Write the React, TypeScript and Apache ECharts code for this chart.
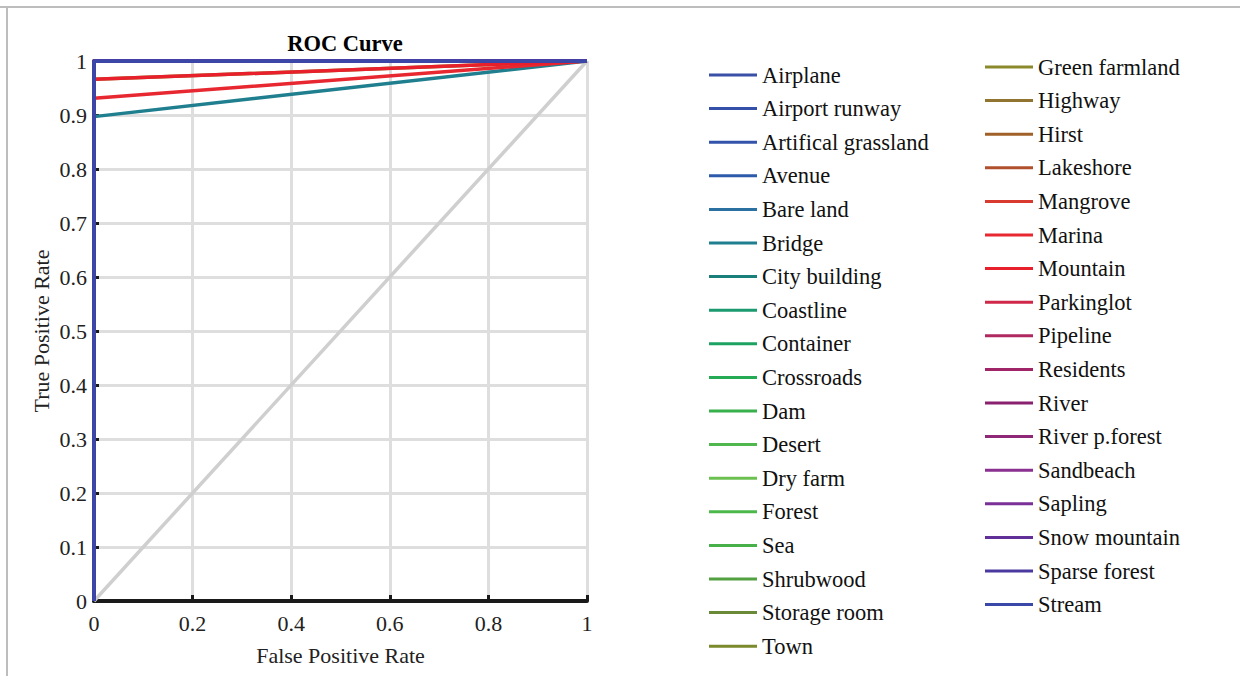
import React, { useEffect, useRef } from "react";
import * as echarts from "echarts";

const colOneNames = [
  "Airplane", "Airport runway", "Artifical grassland", "Avenue", "Bare land", "Bridge",
  "City building", "Coastline", "Container", "Crossroads", "Dam", "Desert",
  "Dry farm", "Forest", "Sea", "Shrubwood", "Storage room", "Town",
];
const colTwoNames = [
  "Green farmland", "Highway", "Hirst", "Lakeshore", "Mangrove", "Marina",
  "Mountain", "Parkinglot", "Pipeline", "Residents", "River", "River p.forest",
  "Sandbeach", "Sapling", "Snow mountain", "Sparse forest", "Stream",
];
const classNames = [...colOneNames, ...colTwoNames];

// TPR reached at FPR = 0 for each class (curve then goes straight to (1,1))
const tprAtZero = [
  1, 1, 1, 1, 1, 0.897,
  1, 1, 1, 1, 1, 1,
  1, 1, 1, 1, 1, 1,
  0.966, 1, 1, 1, 1, 0.931,
  0.966, 1, 1, 1, 1, 1,
  1, 1, 1, 1, 1,
];

const classColors = [
  "#3a4fa6", "#3550a8", "#3353aa", "#2d5aab", "#2a70a0", "#1f7f8f",
  "#1a7f7a", "#1a9a6e", "#1ea262", "#25aa55", "#38b04c", "#50b64e",
  "#6cc050", "#4cb84c", "#48b048", "#52a040", "#6a8a38", "#7a8a2c",
  "#8a8a2c", "#907430", "#a06028", "#b0502c", "#d83a30", "#e82830",
  "#e8202c", "#d02848", "#b02860", "#a02468", "#8a2070", "#902878",
  "#8a3090", "#7a3098", "#603098", "#4a3aa0", "#3a48a8",
];

const xTicks = [0, 0.2, 0.4, 0.6, 0.8, 1];
const diagonal = [[0, 0], [1, 1]];

export default function App() {
  const ref = useRef<HTMLDivElement>(null);
  useEffect(() => {
    if (!ref.current) return;
    const chart = echarts.init(ref.current, null, { renderer: "svg" });
    const font = "'Liberation Serif', 'Times New Roman', serif";
    const series: any[] = [
      {
        name: "chance",
        type: "line",
        data: diagonal,
        symbol: "none",
        lineStyle: { color: "#cfcfcf", width: 3.5 },
        silent: true,
      },
      ...classNames.map((n, i) => ({
        name: n,
        type: "line",
        data: [[0, 0], [0, tprAtZero[i]], [1, 1]],
        symbol: "none",
        color: classColors[i],
        lineStyle: { color: classColors[i], width: 3.5 },
      })),
    ];
    const legendCommon = {
      orient: "vertical",
      icon: "rect",
      itemWidth: 48,
      itemHeight: 3,
      itemGap: 9.6,
      padding: 0,
      textStyle: { fontFamily: font, fontSize: 22.5, color: "#111", lineHeight: 24 },
      selectedMode: false,
    };
    chart.setOption({
      animation: false,
      backgroundColor: "#fff",
      title: {
        text: "ROC Curve",
        left: 340,
        textAlign: "center",
        top: 27,
        textStyle: { fontFamily: font, fontSize: 22.5, fontWeight: "bold", color: "#000" },
      },
      legend: [
        { ...legendCommon, data: colOneNames, left: 709, top: 63 },
        { ...legendCommon, data: colTwoNames, left: 985, top: 55 },
      ],
      grid: { left: 94, top: 61, width: 493, height: 540, containLabel: false },
      xAxis: {
        type: "value",
        min: 0,
        max: 1,
        interval: 0.2,
        name: "False Positive Rate",
        nameLocation: "middle",
        nameGap: 43,
        nameTextStyle: { fontFamily: font, fontSize: 22, color: "#222" },
        axisLine: { show: true, lineStyle: { color: "#1a1a1a", width: 4 } },
        axisTick: { show: true, inside: true, length: 6, lineStyle: { color: "#1a1a1a", width: 3 } },
        axisLabel: {
          fontFamily: font, fontSize: 22, color: "#222", margin: 11,
          formatter: (v: number) => (xTicks.includes(+v.toFixed(1)) ? String(+v.toFixed(1)) : ""),
        },
        splitLine: { show: true, lineStyle: { color: "#dedede", width: 3 } },
      },
      yAxis: {
        type: "value",
        min: 0,
        max: 1,
        interval: 0.1,
        name: "True Positive Rate",
        nameLocation: "middle",
        nameGap: 42,
        nameTextStyle: { fontFamily: font, fontSize: 22, color: "#222" },
        axisLine: { show: true, lineStyle: { color: "#1a1a1a", width: 4 } },
        axisTick: { show: true, inside: true, length: 5, lineStyle: { color: "#1a1a1a", width: 3 } },
        axisLabel: {
          fontFamily: font, fontSize: 22, color: "#222", margin: 7,
          formatter: (v: number) => String(+v.toFixed(1)),
        },
        splitLine: { show: true, lineStyle: { color: "#dedede", width: 3 } },
      },
      graphic: [
        {
          type: "line",
          shape: { x1: 0, y1: 7, x2: 1240, y2: 7 },
          style: { stroke: "#bdbdbd", lineWidth: 2 },
          silent: true,
        },
        {
          type: "line",
          shape: { x1: 7, y1: 7, x2: 7, y2: 676 },
          style: { stroke: "#bdbdbd", lineWidth: 2 },
          silent: true,
        },
      ],
      series,
    });
    return () => chart.dispose();
  }, []);
  return (
    <div
      ref={ref}
      style={{ position: "absolute", left: 0, top: 0, width: 1240, height: 676, background: "#fff" }}
    />
  );
}
